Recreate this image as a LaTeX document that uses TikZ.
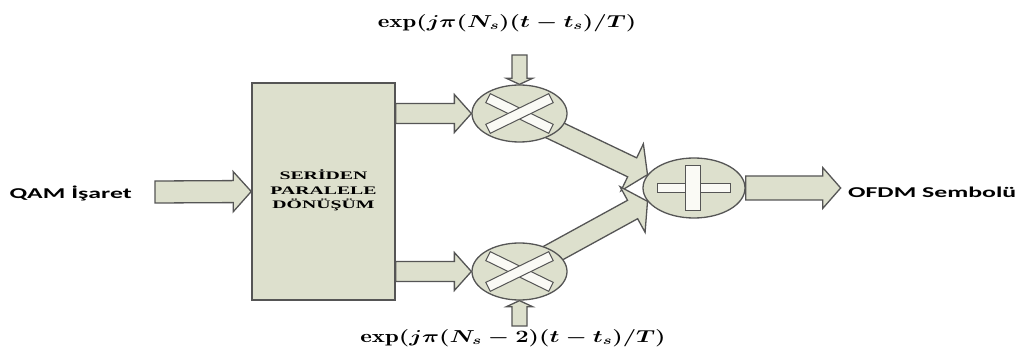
\documentclass[tikz,border=0pt]{standalone}
\usepackage{fontspec}
\usetikzlibrary{calc,shapes.geometric}
\newfontfamily\calib{Carlito}
\newfontfamily\tnr{Liberation Serif}
\definecolor{fillc}{RGB}{221,224,205}
\definecolor{linec}{RGB}{85,85,85}
\definecolor{barc}{RGB}{250,250,245}
\pgfdeclarelayer{bg}\pgfdeclarelayer{paper}\pgfsetlayers{paper,bg,main}
\tikzset{
  blockarrow/.style={draw=linec, fill=fillc, line width=1.3pt, line join=miter},
  blockbox/.style={draw=linec, fill=fillc, line width=1.5pt, rectangle},
  opcircle/.style={draw=linec, fill=fillc, line width=1.3pt, ellipse, inner sep=0pt},
  barstyle/.style={draw=linec, fill=barc, line width=1pt},
  lab/.style={inner sep=0pt, font=\calib\bfseries\fontsize{15}{18}\selectfont},
}
\newcommand\fatarrow[5]{%
  \coordinate (fatc) at ($(#2)!#5!(#1)$);
  \draw[blockarrow] ($(#1)!#3!90:(#2)$) -- ($(fatc)!#3!90:(#2)$) -- ($(fatc)!#4!90:(#2)$)
    -- (#2) -- ($(fatc)!#4!-90:(#2)$) -- ($(fatc)!#3!-90:(#2)$) -- ($(#1)!#3!-90:(#2)$) -- cycle;
}
\begin{document}
\begin{tikzpicture}[x=1pt,y=-1pt]
\begin{pgfonlayer}{paper}
\fill[white] (0,0) rectangle (1027,363);
\end{pgfonlayer}
\useasboundingbox (0,0) rectangle (1027,363);
% nodes
\node[blockbox, minimum width=143pt, minimum height=217pt] (box) at (323.5,191.5)
  {\scalebox{1.72}[1]{\tnr\bfseries\fontsize{11.5}{14.5}\selectfont\begin{tabular}{@{}c@{}}SERİDEN\\PARALELE\\DÖNÜŞÜM\end{tabular}}};
\node[opcircle, minimum width=95pt, minimum height=57pt] (m1) at (519.5,113.5) {};
\node[opcircle, minimum width=95pt, minimum height=57pt] (m2) at (519.5,271.5) {};
\node[opcircle, minimum width=102pt, minimum height=60pt] (add) at (694,188) {};
\node[lab, anchor=east] (qam) at (132,193) {\scalebox{1.72}[1]{QAM İşaret}};
\node[lab, anchor=west] (ofdm) at (848,192) {\scalebox{1.72}[1]{OFDM Sembolü}};
\node[inner sep=0pt] (e1) at (507,23) {\scalebox{1.38}[1]{\fontsize{18}{20}\selectfont\boldmath$\exp\bigl(j\pi(N_s)(t-t_s)/T\bigr)$}};
\node[inner sep=0pt] (e2) at (513,338) {\scalebox{1.38}[1]{\fontsize{18}{20}\selectfont\boldmath$\exp\bigl(j\pi(N_s-2)(t-t_s)/T\bigr)$}};
% crosses and plus
\foreach \m in {m1,m2}{
  \draw[barstyle, rotate around={-26:(\m.center)}] ($(\m.center)+(-35,-5)$) rectangle ($(\m.center)+(35,5)$);
  \draw[barstyle, rotate around={26:(\m.center)}] ($(\m.center)+(-35,-5)$) rectangle ($(\m.center)+(35,5)$);
}
\draw[barstyle] ($(add.center)+(-36.5,-4.5)$) rectangle ($(add.center)+(36.5,4.5)$);
\draw[barstyle] ($(add.center)+(-8.5,-22.5)$) rectangle ($(add.center)+(6.5,22.5)$);
% connectors
\coordinate (qin) at (155,192);
\coordinate (b1) at (box.east |- m1.west);
\coordinate (b2) at (box.east |- m2.west);
\coordinate (c1) at (519.5,55);
\coordinate (c2) at (519.5,326);
\coordinate (oout) at ($(add.east)+(95,0)$);
\begin{pgfonlayer}{bg}
\fatarrow{qin}{box.west}{11pt}{20pt}{18pt}
\fatarrow{b1}{m1.west}{10pt}{19pt}{17pt}
\fatarrow{b2}{m2.west}{10pt}{19pt}{17pt}
\fatarrow{c1}{m1.north}{7.5pt}{13pt}{6pt}
\fatarrow{c2}{m2.south}{7.5pt}{13pt}{6pt}
\fatarrow{m1.center}{add.164}{10.5pt}{26pt}{17pt}
\fatarrow{m2.center}{add.196}{10.5pt}{26pt}{17pt}
\fatarrow{add.east}{oout}{12pt}{20.5pt}{18pt}
\end{pgfonlayer}
\end{tikzpicture}
\end{document}
